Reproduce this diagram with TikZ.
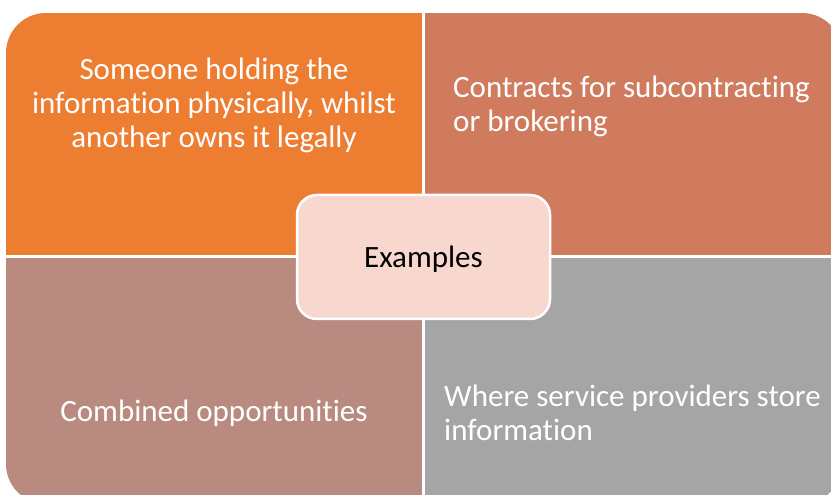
\documentclass[tikz,border=0pt]{standalone}
\usepackage{fontspec}
\setmainfont[RawFeature={-liga;-clig;-calt;-dlig}]{Carlito}
\definecolor{quadA}{RGB}{237,125,49}
\definecolor{quadB}{RGB}{209,123,94}
\definecolor{quadC}{RGB}{185,138,128}
\definecolor{quadD}{RGB}{165,165,165}
\definecolor{centerfill}{RGB}{248,216,206}
\begin{document}
\begin{tikzpicture}[x=1pt,y=1pt]
\tikzset{every node/.style={inner sep=0,font=\fontsize{31}{34}\selectfont},
    qtext/.style={text=white},
    hub/.style={fill=centerfill,draw=white,line width=2.5pt,rounded corners=20pt,
        minimum width=253pt,minimum height=124pt,text height=28pt,text depth=6pt}}
    \useasboundingbox (0,0) rectangle (831,495);
    % the four quarters, clipped by the outer rounded box
    \begin{scope}
    \clip[rounded corners=40pt] (6,-9) rectangle (842,482);
    \fill[quadA] (6,238) rectangle (423.5,482);
    \fill[quadB] (423.5,238) rectangle (842,482);
    \fill[quadC] (6,-9) rectangle (423.5,238);
    \fill[quadD] (423.5,-9) rectangle (842,238);
    \draw[white,line width=3pt] (423.5,-9) -- (423.5,482);
    \draw[white,line width=3pt] (6,238) -- (842,238);
    \end{scope}

    \node[qtext,align=center] (tl) at (214,390) {Someone holding the\\information physically, whilst\\another owns it legally};
    \node[qtext,align=left,anchor=west] (tr) at (453,389) {Contracts for subcontracting\\or brokering};
    \node[qtext,align=center] (bl) at (214,82) {Combined opportunities};
    \node[qtext,align=left,anchor=west] (br) at (444,82) {Where service providers store\\information};

    \node[hub] (ex) at (423.5,238) {Examples};
\end{tikzpicture}
\end{document}
